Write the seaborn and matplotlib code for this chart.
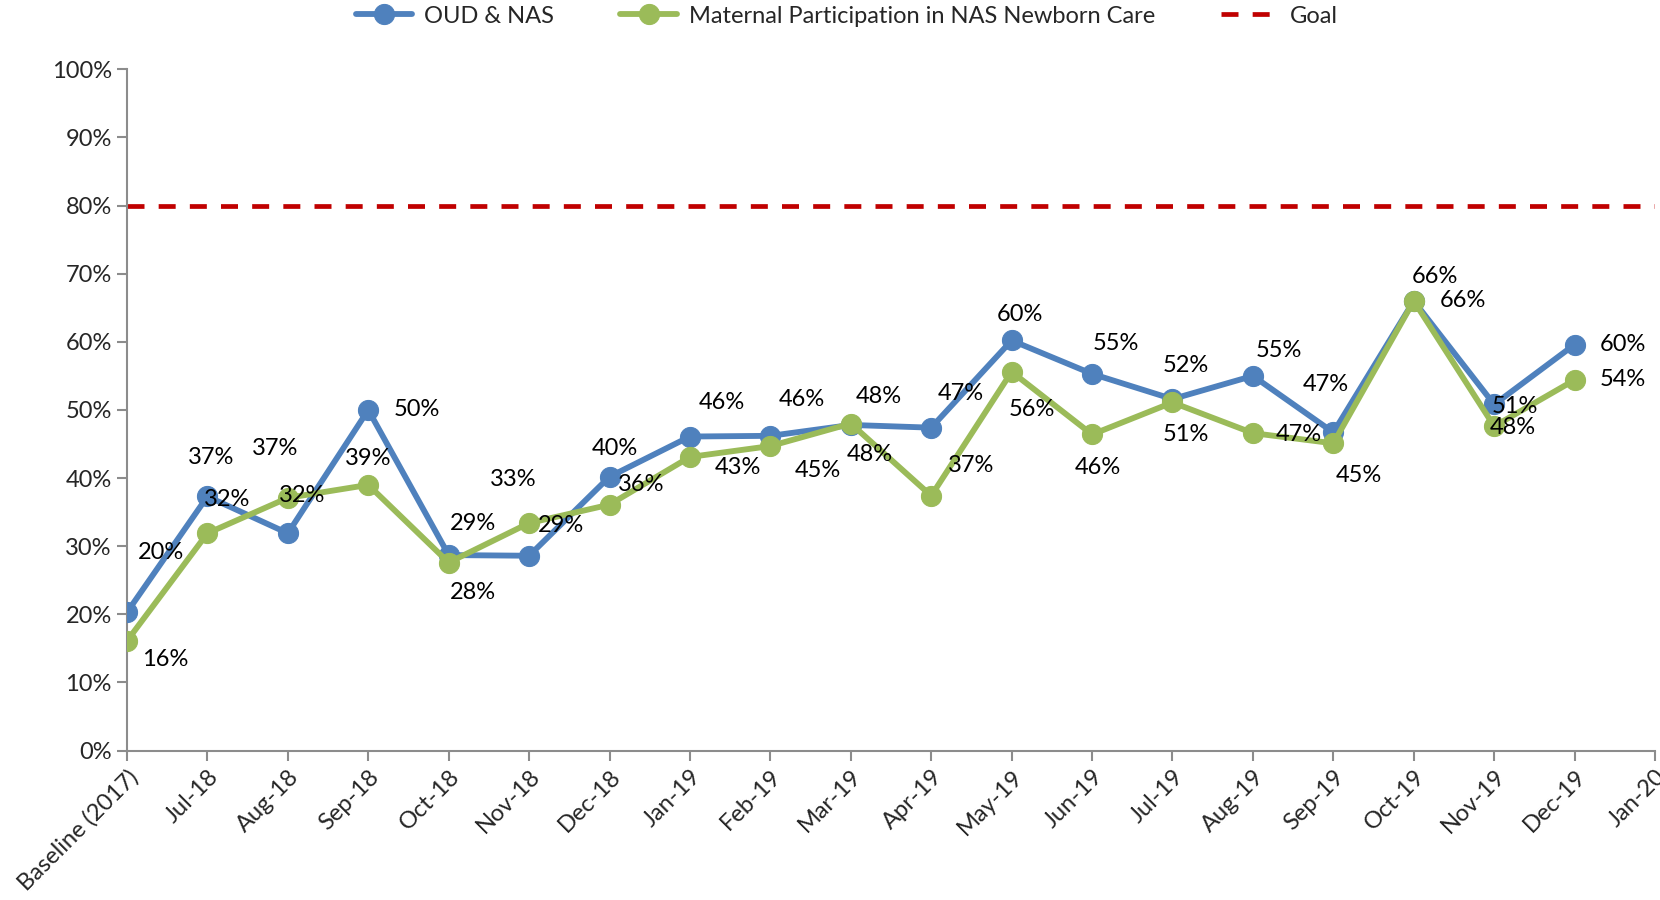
import numpy as np
import pandas as pd
import matplotlib.pyplot as plt
import seaborn as sns

months = ["Baseline (2017)", "Jul-18", "Aug-18", "Sep-18", "Oct-18", "Nov-18", "Dec-18",
          "Jan-19", "Feb-19", "Mar-19", "Apr-19", "May-19", "Jun-19", "Jul-19", "Aug-19",
          "Sep-19", "Oct-19", "Nov-19", "Dec-19", "Jan-20"]
oud_nas = [20.3, 37.3, 31.9, 50.0, 28.7, 28.6, 40.2, 46.1, 46.2, 47.8, 47.4, 60.2, 55.3,
           51.6, 55.0, 46.7, 66.0, 50.8, 59.6]
maternal = [16.1, 31.9, 37.1, 39.0, 27.6, 33.4, 36.1, 43.1, 44.7, 48.0, 37.4, 55.6, 46.4,
            51.1, 46.6, 45.1, 66.0, 47.6, 54.4]
goal = 80

# label offsets in pixels (dx, dy) from each point
oud_off = [(34, 60), (4, 39), (14, 38), (49, 0), (24, 32), (32, 30), (5, 28), (32, 34),
           (32, 36), (28, 28), (30, 34), (8, 26), (24, 30), (13, 34), (26, 25), (-8, 48),
           (21, 24), (21, -2), (48, 0)]
mat_off = [(38, -19), (20, 34), (-13, 49), (0, 26), (24, -30), (-16, 44), (32, 20), (48, -11),
           (48, -24), (19, -31), (40, 30), (20, -38), (6, -33), (13, -32), (46, -1), (26, -32),
           (49, 0), (19, -1), (48, 0)]

blue = "#4F81BD"
green = "#9BBB59"
red = "#C00000"
grey = "#8C8C8C"

sns.set_style("white")
plt.rcParams["font.family"] = ["Lato", "DejaVu Sans"]

fig = plt.figure(figsize=(16.6, 9), dpi=100)
ax = fig.add_axes([0.0765, 0.166, 0.9205, 0.757])

idx = np.arange(len(oud_nas))
df = pd.DataFrame({"x": idx, "oud": oud_nas, "mat": maternal})

ax.axhline(goal, color=red, lw=3.4, ls=(0, (3.6, 3)), label="Goal", zorder=1)
sns.lineplot(data=df, x="x", y="oud", ax=ax, color=blue, lw=4.2, marker="o",
             markersize=14.5, markeredgecolor=blue, label="OUD & NAS", zorder=3)
sns.lineplot(data=df, x="x", y="mat", ax=ax, color=green, lw=4.2, marker="o",
             markersize=14.5, markeredgecolor=green,
             label="Maternal Participation in NAS Newborn Care", zorder=4)

for i, v in enumerate(oud_nas):
    ax.annotate(f"{v:.0f}%", (i, v), xytext=oud_off[i], textcoords="offset pixels",
                ha="center", va="center", fontsize=17, color="black", zorder=6)
for i, v in enumerate(maternal):
    ax.annotate(f"{v:.0f}%", (i, v), xytext=mat_off[i], textcoords="offset pixels",
                ha="center", va="center", fontsize=17, color="black", zorder=6)

ax.set_xlim(0, len(months) - 1)
ax.set_ylim(0, 100)
ax.set_xticks(range(len(months)))
ax.set_xticklabels(months, rotation=45, ha="right", rotation_mode="anchor", fontsize=17)
ax.set_yticks(range(0, 101, 10))
ax.set_yticklabels([f"{t}%" for t in range(0, 101, 10)], fontsize=17)
ax.set_xlabel("")
ax.set_ylabel("")

for s in ["top", "right"]:
    ax.spines[s].set_visible(False)
for s in ["left", "bottom"]:
    ax.spines[s].set_color(grey)
    ax.spines[s].set_linewidth(1.5)
ax.tick_params(axis="both", direction="out", length=7, width=1.5, color=grey,
               left=True, bottom=True, pad=4)

h, l = ax.get_legend_handles_labels()
ax.get_legend().remove()
order = [1, 2, 0]
fig.legend([h[o] for o in order], [l[o] for o in order], loc="center",
           bbox_to_anchor=(0.51, 0.982), ncol=3, frameon=False, fontsize=17,
           handlelength=2.4, columnspacing=2.8, handletextpad=0.5)

fig.savefig("out.png", dpi=100)
